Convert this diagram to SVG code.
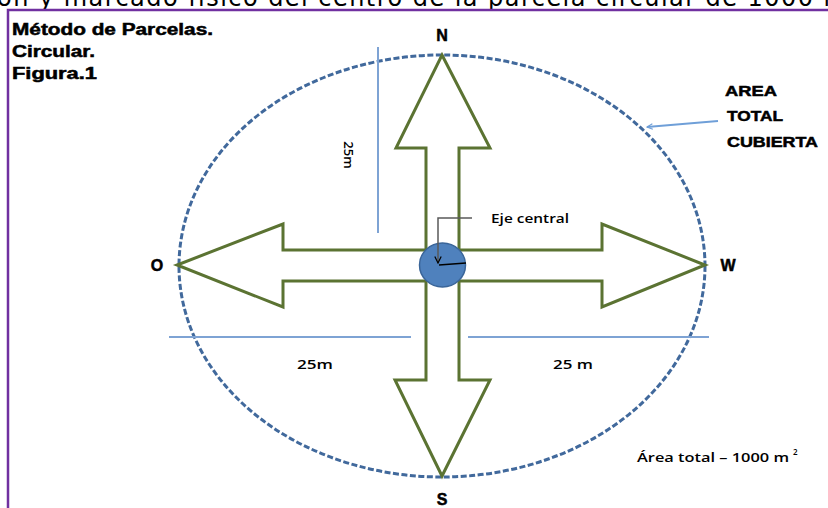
<svg xmlns="http://www.w3.org/2000/svg" width="828" height="508" viewBox="0 0 828 508">
  <defs>
    <style>
      .lbl { font-family: "Liberation Sans", Arial, sans-serif; font-weight: bold; fill: #000; stroke: #000; stroke-width: 0.5; }
      .sml { font-family: "Open Sans", "Liberation Sans", sans-serif; font-weight: 600; fill: #000; font-size: 13px; }
      .dim { stroke: #7ea3d4; stroke-width: 2; fill: none; }
      .cross { fill: #fff; stroke: #5b7332; stroke-width: 3; stroke-linejoin: miter; }
    </style>
    <marker id="openArrow" viewBox="0 0 10 10" refX="9" refY="5" markerWidth="7" markerHeight="7" orient="auto-start-reverse" markerUnits="userSpaceOnUse">
      <path d="M1,1 L9,5 L1,9" fill="none" stroke="#6f9fd8" stroke-width="1.5"/>
    </marker>
    <marker id="blkArrow" viewBox="0 0 10 10" refX="9" refY="5" markerWidth="8" markerHeight="8" orient="auto" markerUnits="userSpaceOnUse">
      <path d="M1,1 L9,5 L1,9" fill="none" stroke="#000" stroke-width="1.5"/>
    </marker>
  </defs>
  <rect width="828" height="508" fill="#fff"/>

  <!-- cut-off caption line at top -->
  <text x="-3" y="6" font-family="'DejaVu Sans', Verdana, sans-serif" font-size="24" fill="#000" textLength="850" lengthAdjust="spacing">ón y marcado físico del centro de la parcela circular de 1000 m</text>

  <!-- purple frame -->
  <path d="M8,508 L8,10 L828,10" fill="none" stroke="#7030a0" stroke-width="2.5"/>

  <g id="title">
    <text class="lbl" x="12" y="35" font-size="16" textLength="201" lengthAdjust="spacingAndGlyphs">Método de Parcelas.</text>
    <text class="lbl" x="12" y="57" font-size="16" textLength="83" lengthAdjust="spacingAndGlyphs">Circular.</text>
    <text class="lbl" x="12" y="79" font-size="16" textLength="85" lengthAdjust="spacingAndGlyphs">Figura.1</text>
  </g>

  <g id="parcela">
    <ellipse cx="442" cy="266" rx="263" ry="211" fill="none" stroke="#41699c" stroke-width="3" stroke-dasharray="6 2.5"/>
  </g>

  <g id="cruz">
    <polygon class="cross" points="442,55 490,148 459,148 459,250 602,250 602,224 705,265 602,307 602,281 459,281 459,380 490,380 442,476 395,380 426,380 426,281 283,281 283,307 177,265 283,224 283,250 426,250 426,148 396,148"/>
  </g>

  <g id="eje-central">
    <ellipse cx="442.5" cy="265" rx="23" ry="22" fill="#4f81bd" stroke="#3a6599" stroke-width="1.5"/>
    <line x1="439" y1="265" x2="466" y2="263" stroke="#000" stroke-width="1.5"/>
    <text class="sml" x="491" y="223" textLength="78" lengthAdjust="spacingAndGlyphs">Eje central</text>
  </g>

  <g id="puntos-cardinales">
    <text class="lbl" x="442" y="41" font-size="16" text-anchor="middle">N</text>
    <text class="lbl" x="442" y="505" font-size="16" text-anchor="middle">S</text>
    <text class="lbl" x="157" y="271" font-size="16" text-anchor="middle">O</text>
    <text class="lbl" x="728" y="271" font-size="16" text-anchor="middle">W</text>
  </g>

  <g id="area-label">
    <text class="lbl" x="725" y="96" font-size="15" textLength="52" lengthAdjust="spacingAndGlyphs">AREA</text>
    <text class="lbl" x="727" y="121" font-size="15" textLength="56" lengthAdjust="spacingAndGlyphs">TOTAL</text>
    <text class="lbl" x="727" y="147" font-size="15" textLength="91" lengthAdjust="spacingAndGlyphs">CUBIERTA</text>
  </g>

  <g id="medidas">
    <text class="sml" transform="translate(344,155) rotate(90)" text-anchor="middle" font-size="14">25m</text>
    <text class="sml" x="297" y="369" textLength="36" lengthAdjust="spacingAndGlyphs">25m</text>
    <text class="sml" x="553" y="369" textLength="40" lengthAdjust="spacingAndGlyphs">25 m</text>
    <text class="sml" x="637" y="462" font-size="13"><tspan textLength="152" lengthAdjust="spacingAndGlyphs">Área total – 1000 m</tspan><tspan dx="4" dy="-7" font-size="8">2</tspan></text>
  </g>

  <g id="connectors">
    <line class="dim" x1="378" y1="47" x2="378" y2="233"/>
    <line class="dim" x1="169" y1="337" x2="411" y2="337"/>
    <line class="dim" x1="468" y1="337" x2="709" y2="337"/>
    <line x1="718" y1="121" x2="647" y2="127" stroke="#6f9fd8" stroke-width="2" marker-end="url(#openArrow)"/>
    <polyline points="472,218 438,218 438,263" fill="none" stroke="#595959" stroke-width="1.5" marker-end="url(#blkArrow)"/>
  </g>
</svg>
